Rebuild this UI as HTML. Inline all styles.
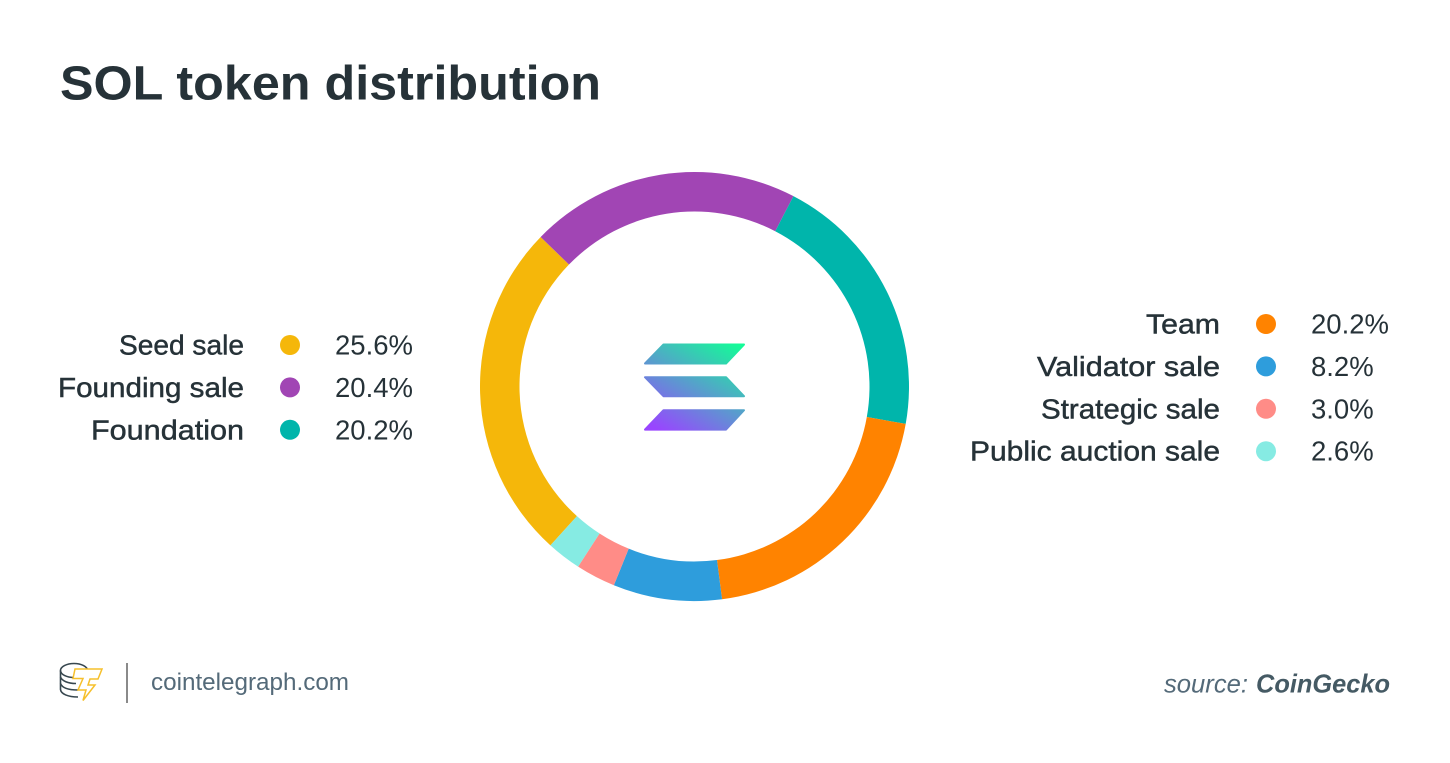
<!DOCTYPE html>
<html lang="en">
<head>
<meta charset="utf-8">
<title>SOL token distribution</title>
<style>
html,body{margin:0;padding:0;background:#fff;width:1450px;height:763px;overflow:hidden}
svg{display:block}
text{font-family:"Liberation Sans",sans-serif;fill:#263238}
.name{font-size:27.5px;stroke:#263238;stroke-width:.45px}
.val{font-size:27.5px}
</style>
</head>
<body>
<svg id="chart" width="1450" height="763" viewBox="0 0 1450 763" xmlns="http://www.w3.org/2000/svg">
<defs>
<linearGradient id="sol" gradientUnits="userSpaceOnUse" x1="730" y1="340" x2="672" y2="438">
<stop offset="0" stop-color="#14FB98"/><stop offset="1" stop-color="#9945FF"/>
</linearGradient>
</defs>
<text x="60" y="99.5" font-size="48" font-weight="700" textLength="541" lengthAdjust="spacingAndGlyphs">SOL token distribution</text>
<g id="ring"></g>
<g id="legend">
<g text-anchor="end" class="name">
<text class="name" x="244" y="354.5" textLength="125" lengthAdjust="spacingAndGlyphs">Seed sale</text>
<text class="name" x="244" y="396.9" textLength="186" lengthAdjust="spacingAndGlyphs">Founding sale</text>
<text class="name" x="244" y="439.3" textLength="153" lengthAdjust="spacingAndGlyphs">Foundation</text>
<text class="name" x="1220" y="333.5" textLength="74" lengthAdjust="spacingAndGlyphs">Team</text>
<text class="name" x="1220" y="375.9" textLength="183" lengthAdjust="spacingAndGlyphs">Validator sale</text>
<text class="name" x="1220" y="418.3" textLength="179" lengthAdjust="spacingAndGlyphs">Strategic sale</text>
<text class="name" x="1220" y="460.7" textLength="250" lengthAdjust="spacingAndGlyphs">Public auction sale</text>
</g>
</g>
<g fill="url(#sol)" stroke="url(#sol)" stroke-width="2" stroke-linejoin="round">
<path d="M663.5 344.5H744L726 363.5H645Z"/>
<path d="M645 377.2H726L744 396.2H663.5Z"/>
<path d="M663.5 410.2H744L726 429.6H645Z"/>
</g>
<g>
<g fill="none" stroke="#37474f" stroke-width="1.6">
<ellipse cx="74" cy="670.5" rx="13.5" ry="7"/>
<path d="M60.5 670.5V689.5C61 694 68 697 78 697"/>
<path d="M60.5 677C62 681 68 683.5 76 683.5"/>
<path d="M60.5 683.5C62 687.5 68 690 78 690"/>
</g>
<path d="M75 669H102L98 679H90L88 685H95L83 700.5L86 690H78L83 678.5H73Z" fill="#fff" stroke="#f6c02c" stroke-width="1.5" stroke-linejoin="miter"/>
<rect x="126" y="663" width="2" height="40" fill="#8a8a8a"/>
<text x="151" y="690" font-size="24" style="fill:#546a79" textLength="198" lengthAdjust="spacingAndGlyphs">cointelegraph.com</text>
</g>
<text x="1164" y="692.5" font-size="26" font-style="italic" style="fill:#546a79" textLength="84" lengthAdjust="spacingAndGlyphs">source:</text>
<text x="1256" y="692.5" font-size="26" font-style="italic" font-weight="700" style="fill:#455a64" textLength="134" lengthAdjust="spacingAndGlyphs">CoinGecko</text>
</svg>
<script>
// Chart data, in clockwise order around the ring
const categories = ["Seed sale", "Founding sale", "Foundation", "Team", "Validator sale", "Strategic sale", "Public auction sale"];
const values = [25.6, 20.4, 20.2, 20.2, 8.2, 3.0, 2.6];
const colors = ["#F5B70A", "#A145B4", "#00B5AB", "#FF8300", "#2E9DDC", "#FF8C87", "#86EBE3"];
const leftLegendCount = 3;

const NS = "http://www.w3.org/2000/svg";
const cx = 694.5, cy = 386.5, rOuter = 214.5, rInner = 175;
const ringStart = 222.2;
const total = values.reduce(function (a, b) { return a + b; }, 0);

function angleOf(v) { return v / total * 360; }
function polar(r, deg) {
  const t = deg * Math.PI / 180;
  return [cx + r * Math.sin(t), cy - r * Math.cos(t)];
}
function arcPath(a0, a1) {
  const large = a1 - a0 > 180 ? 1 : 0;
  const p0 = polar(rOuter, a0), p1 = polar(rOuter, a1), p2 = polar(rInner, a1), p3 = polar(rInner, a0);
  return "M" + p0 + "A" + rOuter + " " + rOuter + " 0 " + large + " 1 " + p1 +
         "L" + p2 + "A" + rInner + " " + rInner + " 0 " + large + " 0 " + p3 + "Z";
}

const ring = document.getElementById("ring");
let cursor = ringStart;
values.forEach(function (v, i) {
  const a1 = cursor + angleOf(v);
  const seg = document.createElementNS(NS, "path");
  seg.setAttribute("d", arcPath(cursor, a1));
  seg.setAttribute("fill", colors[i]);
  seg.setAttribute("aria-label", categories[i]);
  
  
  ring.appendChild(seg);
  cursor = a1;
});

const legend = document.getElementById("legend");
const rowGap = 42.4;
function addRow(i, dotX, valX, baseY) {
  const d = document.createElementNS(NS, "circle");
  d.setAttribute("cx", dotX);
  d.setAttribute("cy", baseY - 9.5);
  d.setAttribute("r", 10);
  d.setAttribute("fill", colors[i]);
  
  
  legend.appendChild(d);

  const p = document.createElementNS(NS, "text");
  p.setAttribute("x", valX);
  p.setAttribute("y", baseY);
  p.setAttribute("class", "val");
  p.textContent = values[i].toFixed(1) + "%";
  
  
  legend.appendChild(p);
}
categories.forEach(function (c, i) {
  if (i < leftLegendCount) {
    addRow(i, 290, 335, 354.5 + i * rowGap);
  } else {
    addRow(i, 1266, 1311, 333.5 + (i - leftLegendCount) * rowGap);
  }
});
</script>
</body>
</html>
